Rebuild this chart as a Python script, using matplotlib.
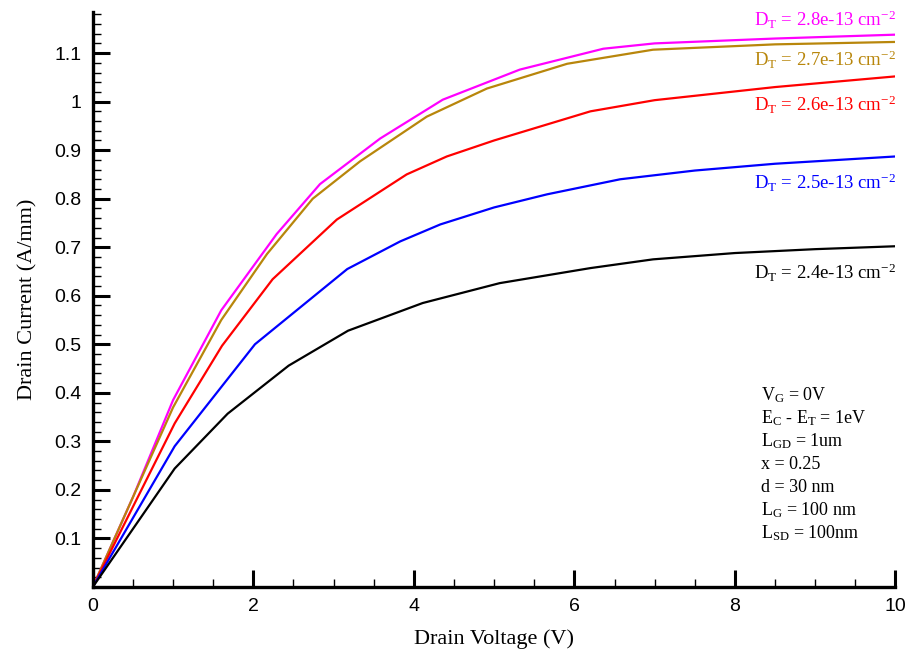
import matplotlib
matplotlib.use("Agg")
import matplotlib.pyplot as plt
from matplotlib.ticker import MultipleLocator, FuncFormatter

plt.rcParams['mathtext.fontset'] = 'custom'
plt.rcParams['mathtext.rm'] = 'Liberation Serif'
plt.rcParams['mathtext.it'] = 'Liberation Serif:italic'
plt.rcParams['font.family'] = 'Liberation Serif'

# drain voltage (V) / drain current (A/mm) for each trap density
v_24 = [0, 1.02, 1.68, 2.44, 3.18, 4.11, 5.07, 6.2, 6.98, 8.0, 9.0, 10.0]
i_24 = [0, 0.244, 0.357, 0.456, 0.528, 0.585, 0.626, 0.657, 0.675, 0.688, 0.696, 0.702]

v_25 = [0, 1.02, 2.02, 3.17, 3.83, 4.33, 5.0, 5.66, 6.57, 7.5, 8.5, 10.0]
i_25 = [0, 0.29, 0.50, 0.655, 0.712, 0.747, 0.782, 0.809, 0.84, 0.858, 0.872, 0.887]

v_26 = [0, 1.02, 1.61, 2.24, 3.04, 3.91, 4.41, 5.0, 6.2, 7.0, 8.5, 10.0]
i_26 = [0, 0.337, 0.497, 0.634, 0.757, 0.85, 0.887, 0.92, 0.98, 1.003, 1.03, 1.052]

v_27 = [0, 1.0, 1.6, 2.17, 2.74, 3.33, 4.16, 4.91, 5.91, 6.98, 8.5, 10.0]
i_27 = [0, 0.37, 0.55, 0.686, 0.80, 0.877, 0.969, 1.027, 1.078, 1.107, 1.118, 1.123]

v_28 = [0, 0.5, 1.0, 1.6, 2.29, 2.83, 3.58, 4.36, 5.32, 6.36, 7.0, 8.5, 10.0]
i_28 = [0, 0.185, 0.385, 0.57, 0.727, 0.83, 0.924, 1.004, 1.066, 1.109, 1.12, 1.13, 1.138]

curves = [
    (v_28, i_28, '#ff00ff', '2.8', 1.168),
    (v_27, i_27, '#b8860b', '2.7', 1.086),
    (v_26, i_26, '#ff0000', '2.6', 0.994),
    (v_25, i_25, '#0000ff', '2.5', 0.832),
    (v_24, i_24, '#000000', '2.4', 0.647),
]

params = [r'V$_\mathrm{G}$ = 0V',
          r'E$_\mathrm{C}$ - E$_\mathrm{T}$ = 1eV',
          r'L$_\mathrm{GD}$ = 1um',
          'x = 0.25',
          'd = 30 nm',
          r'L$_\mathrm{G}$ = 100 nm',
          r'L$_\mathrm{SD}$ = 100nm']

fig = plt.figure(figsize=(9.1, 6.58), dpi=100)
ax = fig.add_axes([0.102, 0.108, 0.882, 0.874])

for v, i, c, dt, ly in curves:
    ax.plot(v, i, color=c, lw=1.6)
    ax.text(10.0, ly, r'D$_\mathrm{T}$ = ' + dt + r'e-13 cm$^{-2}$', color=c,
            fontsize=13.5, ha='right', va='center')

for k, line in enumerate(params):
    ax.text(8.32, 0.395 - k * 0.0475, line, fontsize=13, ha='left', va='center')

ax.set_xlim(0, 10)
ax.set_ylim(0, 1.185)
ax.xaxis.set_major_locator(MultipleLocator(2))
ax.xaxis.set_minor_locator(MultipleLocator(0.5))
ax.yaxis.set_major_locator(MultipleLocator(0.1))
ax.yaxis.set_minor_locator(MultipleLocator(0.02))
ax.yaxis.set_major_formatter(FuncFormatter(lambda y, p: '' if y < 0.05 else '%g' % round(y, 1)))

for s in ['top', 'right']:
    ax.spines[s].set_visible(False)
for s in ['left', 'bottom']:
    ax.spines[s].set_linewidth(2.4)

ax.tick_params(which='major', direction='in', length=12, width=2.2, pad=8)
ax.tick_params(which='minor', direction='in', length=6, width=1.0)
for lab in ax.get_xticklabels() + ax.get_yticklabels():
    lab.set_family('Liberation Sans')
    lab.set_fontsize(14)

ax.set_xlabel('Drain Voltage (V)', fontsize=16, labelpad=10)
ax.set_ylabel('Drain Current (A/mm)', fontsize=16, labelpad=12)

fig.savefig('out.png', dpi=100)
